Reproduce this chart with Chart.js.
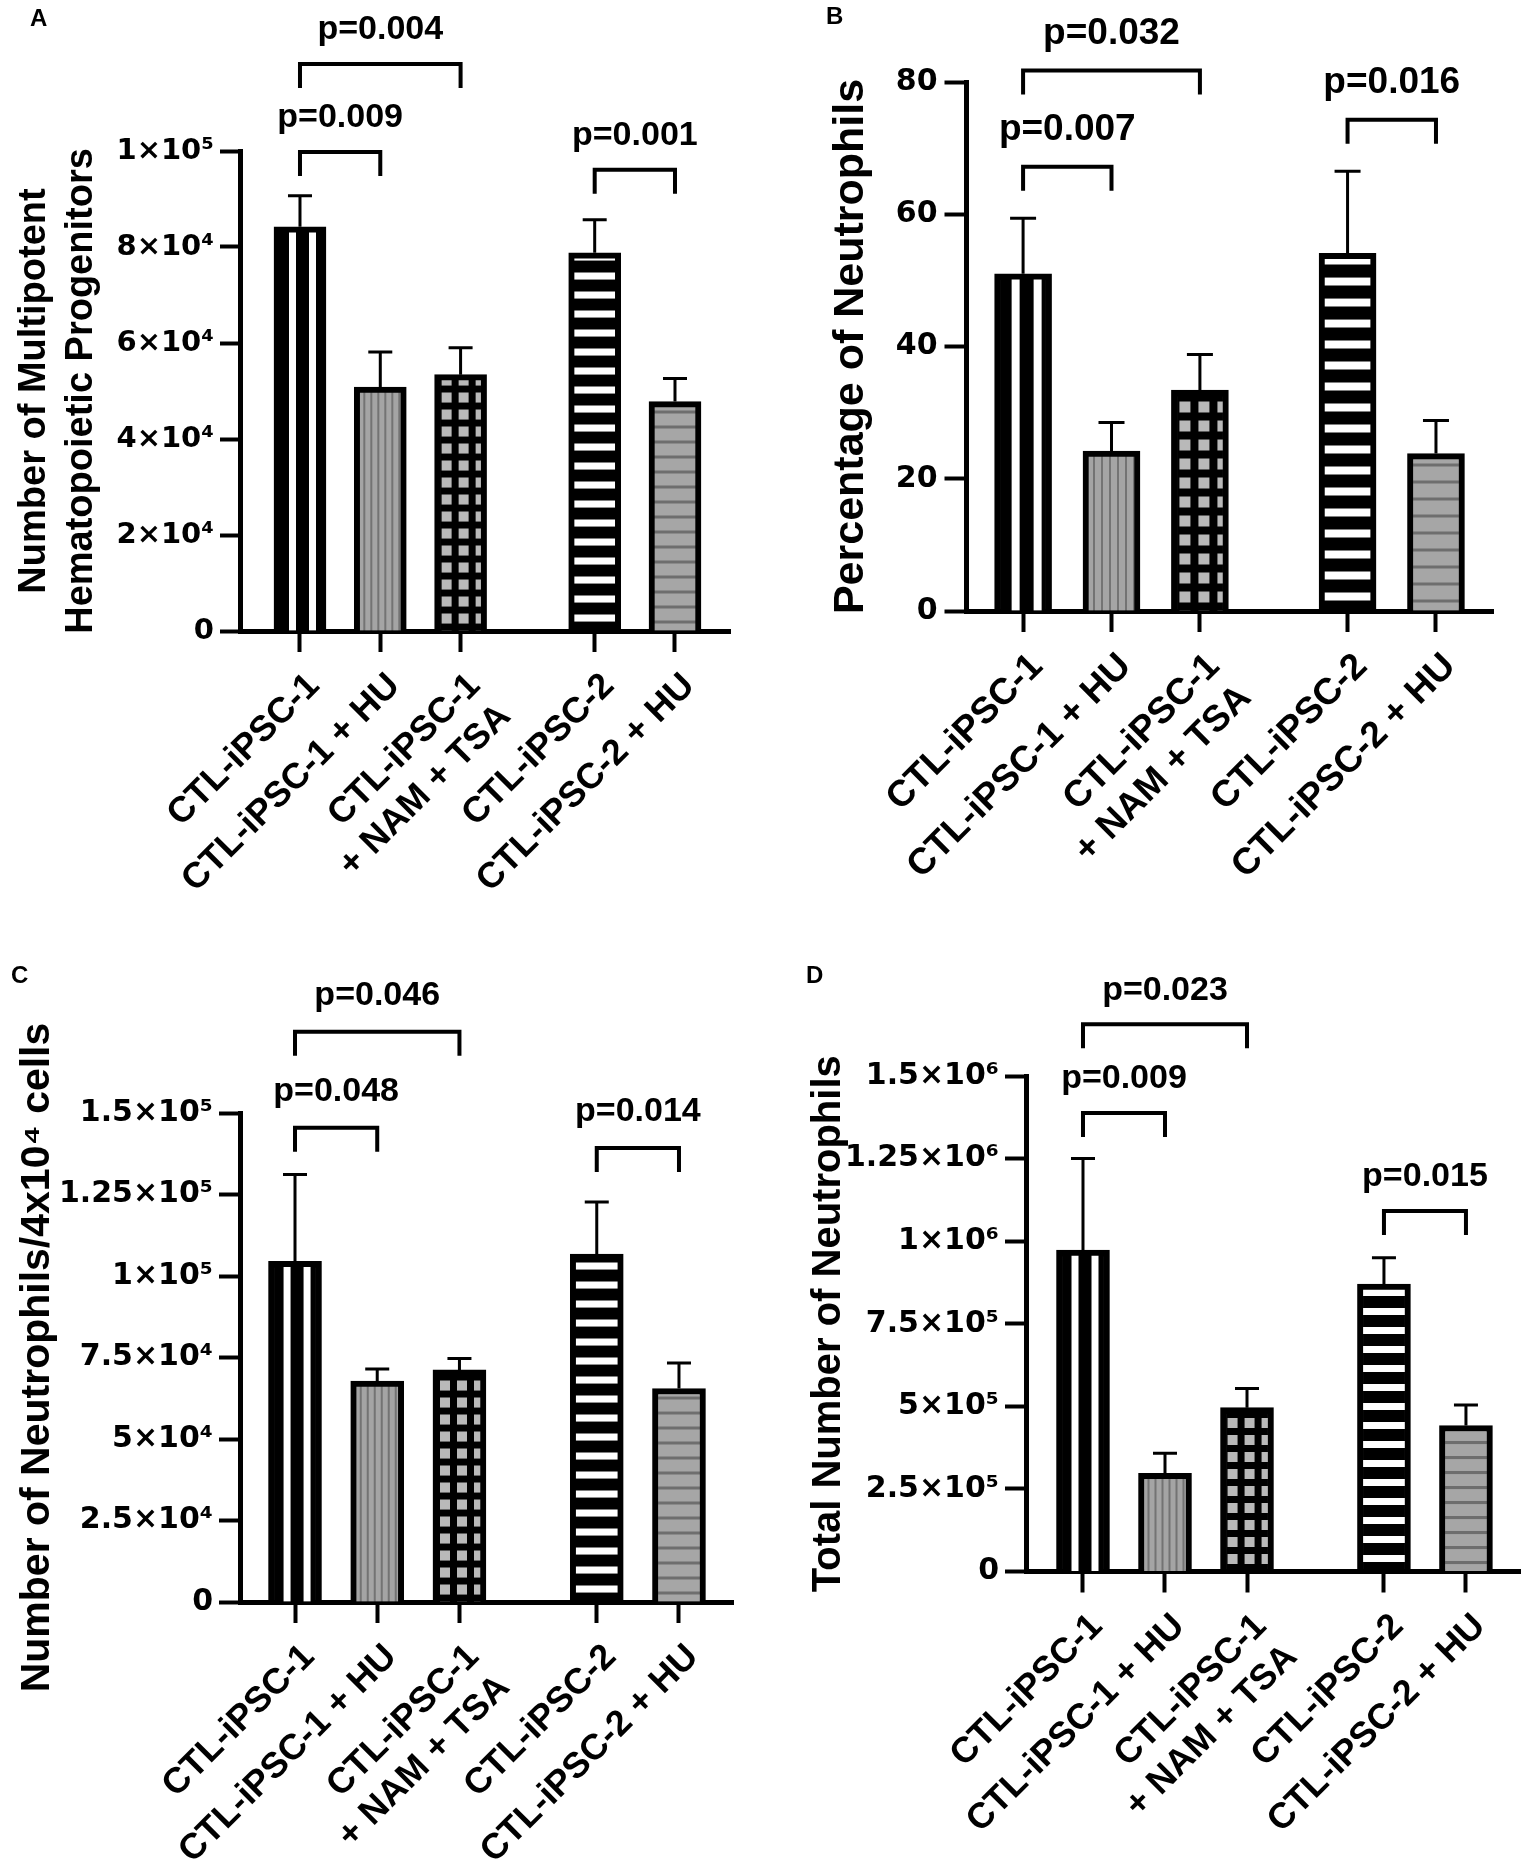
<!DOCTYPE html>
<html lang="en">
<head>
  <meta charset="UTF-8" />
  <title>Progenitors and neutrophils from CTL-iPSC lines</title>
  <script src="https://cdn.jsdelivr.net/npm/chart.js"></script>
  <style>
    html, body { margin: 0; padding: 0; background: #fff; }
    .fig { position: relative; width: 1536px; height: 1869px; }
    .panel { position: absolute; }
    .panel canvas { display: block; }
    .tag { position: absolute; font: bold 24px 'Liberation Sans', Arial, sans-serif; line-height: 24px; color: #000; }
  </style>
</head>
<body>
  <div class="fig">
    <div class="panel" style="left:0;top:0"><canvas id="chartA" width="768" height="935"></canvas></div>
    <div class="panel" style="left:768px;top:0"><canvas id="chartB" width="768" height="935"></canvas></div>
    <div class="panel" style="left:0;top:935px"><canvas id="chartC" width="768" height="934"></canvas></div>
    <div class="panel" style="left:768px;top:935px"><canvas id="chartD" width="768" height="934"></canvas></div>
    <div class="tag" style="left:30px;top:6px">A</div>
    <div class="tag" style="left:826px;top:4px">B</div>
    <div class="tag" style="left:11px;top:963px">C</div>
    <div class="tag" style="left:806px;top:963px">D</div>
  </div>

  <script>
    // categories shared by all four panels
    const categories = ['CTL-iPSC-1', 'CTL-iPSC-1 + HU', ['CTL-iPSC-1', '+ NAM + TSA'], 'CTL-iPSC-2', 'CTL-iPSC-2 + HU'];
    const slots = [1, 2, 3, 4.67, 5.67];          // position on the x axis (gap before iPSC-2)
    const pairs = [[0, 2], [0, 1], [3, 4]];       // compared bars for the p-values

    // A - multipotent hematopoietic progenitors
    const mppMean = [84200, 50800, 53400, 78800, 47800];
    const mppUpper = [90700, 58100, 59000, 85700, 52600];
    const mppTicks = [0, 20000, 40000, 60000, 80000, 100000];
    const mppTickLabels = ['0', '2×10⁴', '4×10⁴', '6×10⁴', '8×10⁴', '1×10⁵'];
    const mppP = ['p=0.004', 'p=0.009', 'p=0.001'];
    const mppPLevel = [118100, 99800, 96100];

    // B - percentage of neutrophils
    const pctMean = [51.0, 24.2, 33.4, 54.1, 23.8];
    const pctUpper = [59.4, 28.5, 38.8, 66.5, 28.8];
    const pctTicks = [0, 20, 40, 60, 80];
    const pctTickLabels = ['0', '20', '40', '60', '80'];
    const pctP = ['p=0.032', 'p=0.007', 'p=0.016'];
    const pctPLevel = [81.75, 67.2, 74.3];

    // C - neutrophils per 4x10^4 cells
    const perMean = [104500, 67800, 71200, 106700, 65500];
    const perUpper = [131100, 71500, 74700, 122700, 73300];
    const perTicks = [0, 25000, 50000, 75000, 100000, 125000, 150000];
    const perTickLabels = ['0', '2.5×10⁴', '5×10⁴', '7.5×10⁴', '1×10⁵', '1.25×10⁵', '1.5×10⁵'];
    const perP = ['p=0.046', 'p=0.048', 'p=0.014'];
    const perPLevel = [174900, 145500, 139300];

    // D - total number of neutrophils
    const totMean = [973000, 297000, 496000, 870000, 442000];
    const totUpper = [1250000, 358000, 554000, 950000, 504000];
    const totTicks = [0, 250000, 500000, 750000, 1000000, 1250000, 1500000];
    const totTickLabels = ['0', '2.5×10⁵', '5×10⁵', '7.5×10⁵', '1×10⁶', '1.25×10⁶', '1.5×10⁶'];
    const totP = ['p=0.023', 'p=0.009', 'p=0.015'];
    const totPLevel = [1657000, 1388000, 1091000];

    const family = "'Liberation Sans', Arial, Helvetica, sans-serif";
    const tickFamily = "'DejaVu Sans', Verdana, sans-serif";
    Chart.defaults.font.family = family;
    Chart.defaults.color = '#000';

    function tile(w, h, draw) {
      const c = document.createElement('canvas');
      c.width = w;
      c.height = h;
      draw(c.getContext('2d'), w, h);
      return c;
    }

    // one fill pattern per bar, with its offset from the bar's left edge / base
    function makePatterns(ctx, s) {
      const r = v => Math.max(1, Math.round(v * s));
      const pat = c => ctx.createPattern(c, 'repeat');
      return [
        { pattern: pat(tile(r(20), 2, (g, w, h) => {
            g.fillStyle = '#000'; g.fillRect(0, 0, w, h);
            g.fillStyle = '#fff'; g.fillRect(0, 0, r(7), h);
          })), dx: r(15), dy: 0 },
        { pattern: pat(tile(r(7), 2, (g, w, h) => {
            g.fillStyle = '#a4a4a4'; g.fillRect(0, 0, w, h);
            g.fillStyle = '#737373'; g.fillRect(0, 0, r(2), h);
          })), dx: r(9), dy: 0 },
        { pattern: pat(tile(r(17), r(17), (g, w, h) => {
            g.fillStyle = '#000'; g.fillRect(0, 0, w, h);
            g.fillStyle = '#b9b9b9'; g.fillRect(0, 0, r(10), r(10));
          })), dx: r(7), dy: -r(17) },
        { pattern: pat(tile(2, r(19), (g, w, h) => {
            g.fillStyle = '#000'; g.fillRect(0, 0, w, h);
            g.fillStyle = '#fff'; g.fillRect(0, 0, w, r(7));
          })), dx: 0, dy: -r(16) },
        { pattern: pat(tile(2, r(15), (g, w, h) => {
            g.fillStyle = '#a6a6a6'; g.fillRect(0, 0, w, h);
            g.fillStyle = '#6e6e6e'; g.fillRect(0, 0, w, r(3));
          })), dx: 0, dy: -r(10) }
      ];
    }

    function buildPanel(p) {
      const canvas = document.getElementById(p.id);
      const ctx = canvas.getContext('2d');
      const fills = makePatterns(ctx, p.scale);

      const deco = {
        id: 'deco',
        beforeDatasetsDraw(chart) {
          chart.getDatasetMeta(0).data.forEach((bar, i) => {
            const f = fills[i];
            const left = bar.x - bar.width / 2;
            f.pattern.setTransform(new DOMMatrix().translate(left + f.dx, bar.base + f.dy));
          });
        },
        afterDatasetsDraw(chart) {
          const c = chart.ctx;
          const y = chart.scales.y;
          c.save();
          c.strokeStyle = '#000';
          c.lineWidth = 3;
          chart.getDatasetMeta(0).data.forEach((bar, i) => {
            const top = y.getPixelForValue(p.upper[i]);
            c.beginPath();
            c.moveTo(bar.x, bar.y);
            c.lineTo(bar.x, top);
            c.moveTo(bar.x - p.cap, top);
            c.lineTo(bar.x + p.cap, top);
            c.stroke();
          });
          c.restore();
        },
        afterDraw(chart) {
          const c = chart.ctx;
          const { x, y } = chart.scales;
          c.save();
          c.strokeStyle = '#000';
          c.fillStyle = '#000';
          c.lineWidth = 4;
          c.font = 'bold ' + p.font.p + 'px ' + family;
          c.textAlign = 'center';
          c.textBaseline = 'middle';
          pairs.forEach(([a, b], k) => {
            const x1 = x.getPixelForValue(slots[a]);
            const x2 = x.getPixelForValue(slots[b]);
            const yy = y.getPixelForValue(p.pLevel[k]);
            c.beginPath();
            c.moveTo(x1, yy + 24);
            c.lineTo(x1, yy);
            c.lineTo(x2, yy);
            c.lineTo(x2, yy + 24);
            c.stroke();
            c.fillText(p.pLabels[k], (x1 + x2) / 2, yy - p.textGap);
          });
          c.restore();
        }
      };

      return new Chart(ctx, {
        type: 'bar',
        data: {
          datasets: [{
            data: slots.map((s, i) => ({ x: s, y: p.mean[i] })),
            backgroundColor: fills.map(f => f.pattern),
            borderColor: '#000',
            borderWidth: 6,
            barThickness: p.barWidth
          }]
        },
        options: {
          responsive: false,
          animation: false,
          layout: { padding: { top: p.box.top, right: p.box.right, left: 0, bottom: 0 } },
          plugins: { legend: { display: false }, tooltip: { enabled: false } },
          scales: {
            x: {
              type: 'linear',
              min: p.box.xMin,
              max: p.box.xMax,
              offset: false,
              afterBuildTicks: ax => { ax.ticks = slots.map(v => ({ value: v })); },
              afterFit: ax => { ax.height = p.box.xHeight; },
              ticks: {
                autoSkip: false,
                minRotation: 45,
                maxRotation: 45,
                padding: 13,
                labelOffset: 14,
                color: '#000',
                font: { size: p.font.label, weight: 'bold' },
                callback: (v, i) => categories[i]
              },
              grid: { offset: false, drawOnChartArea: false, drawTicks: true, tickLength: 21, tickWidth: 4, tickColor: '#000', color: '#000' },
              border: { display: true, color: '#000', width: 5 }
            },
            y: {
              type: 'linear',
              min: 0,
              max: p.ticks[p.ticks.length - 1],
              afterBuildTicks: ax => { ax.ticks = p.ticks.map(v => ({ value: v })); },
              afterFit: ax => { ax.width = p.box.yWidth; },
              ticks: {
                padding: p.yTick[1],
                color: '#000',
                font: { family: tickFamily, size: p.font.tick, weight: 'bold' },
                callback: (v, i) => p.tickLabels[i]
              },
              grid: { drawOnChartArea: false, drawTicks: true, tickLength: p.yTick[0], tickWidth: 4, tickColor: '#000', color: '#000' },
              border: { display: true, color: '#000', width: 5 },
              title: {
                display: true,
                text: p.title,
                color: '#000',
                font: { size: p.font.title, weight: 'bold', lineHeight: p.font.titleLine },
                padding: { top: p.font.titlePad, bottom: 0 }
              }
            }
          }
        },
        plugins: [deco]
      });
    }

    buildPanel({
      id: 'chartA', mean: mppMean, upper: mppUpper, ticks: mppTicks, tickLabels: mppTickLabels,
      pLabels: mppP, pLevel: mppPLevel,
      title: ['Number of Multipotent', 'Hematopoietic Progenitors'],
      box: { top: 151, right: 38, yWidth: 240, xHeight: 304, xMin: 0.253, xMax: 6.355 },
      font: { tick: 29, title: 38, titleLine: 1.24, titlePad: 10.5, label: 36, p: 34 },
      yTick: [20, 6], barWidth: 52, cap: 12, textGap: 34, scale: 1
    });

    buildPanel({
      id: 'chartB', mean: pctMean, upper: pctUpper, ticks: pctTicks, tickLabels: pctTickLabels,
      pLabels: pctP, pLevel: pctPLevel,
      title: 'Percentage of Neutrophils',
      box: { top: 82, right: 43, yWidth: 198.5, xHeight: 324, xMin: 0.36, xMax: 6.315 },
      font: { tick: 30, title: 43, titleLine: 1.2, titlePad: 57, label: 37, p: 37 },
      yTick: [22, 7], barWidth: 57, cap: 13, textGap: 37, scale: 1.1
    });

    buildPanel({
      id: 'chartC', mean: perMean, upper: perUpper, ticks: perTicks, tickLabels: perTickLabels,
      pLabels: perP, pLevel: perPLevel,
      title: 'Number of Neutrophils/4x10⁴ cells',
      box: { top: 178, right: 35, yWidth: 240, xHeight: 267, xMin: 0.331, xMax: 6.327 },
      font: { tick: 30, title: 41, titleLine: 1.2, titlePad: 13, label: 36, p: 34 },
      yTick: [21, 6], barWidth: 53, cap: 12, textGap: 36, scale: 1
    });

    buildPanel({
      id: 'chartD', mean: totMean, upper: totUpper, ticks: totTicks, tickLabels: totTickLabels,
      pLabels: totP, pLevel: totPLevel,
      title: 'Total Number of Neutrophils',
      box: { top: 141, right: 16, yWidth: 258, xHeight: 297.5, xMin: 0.305, xMax: 6.329 },
      font: { tick: 30, title: 40, titleLine: 1.2, titlePad: 37, label: 36, p: 34 },
      yTick: [21, 6], barWidth: 53, cap: 12, textGap: 34, scale: 1
    });
  </script>
</body>
</html>
